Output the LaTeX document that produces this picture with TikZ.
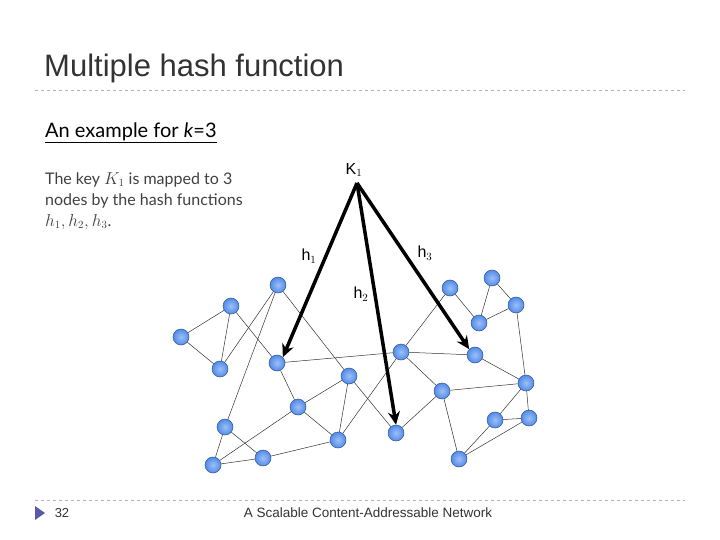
\documentclass[tikz,border=0pt]{standalone}
\usepackage{fontspec}
\setmainfont{Liberation Sans}
\newfontfamily\gill{Lato}
\usetikzlibrary{arrows.meta}
\definecolor{nodeblue}{RGB}{80,140,235}
\begin{document}
\begin{tikzpicture}[x=1pt,y=-1pt,
 nd/.style={circle,draw=nodeblue!60!black,line width=0.5pt,inner sep=0pt,minimum size=16pt,inner color=nodeblue!55!white,outer color=nodeblue},
 ed/.style={draw=black!80,line width=0.5pt},
 ar/.style={line width=3.5pt,-{Stealth[length=13pt,width=12pt]}}]
\useasboundingbox (0,0) rectangle (720,540);
\node[anchor=west,font=\fontsize{31}{36}\selectfont,text=black!80,inner sep=0pt] (title) at (44,68) {Multiple hash function};
\draw[gray!60,dashed] (35,90) -- (685,90);
\draw[gray!60,dashed] (35,500) -- (685,500);
\node[anchor=west,font=\gill\fontsize{20}{24}\selectfont,inner sep=0pt] (sub) at (45,133) {\underline{An example for \textit{k}=3}};
\node[anchor=north west,align=left,font=\gill\fontsize{16}{21}\selectfont,text=black!75,inner sep=0pt] (txt) at (45,172) {The key $K_1$ is mapped to 3\\nodes by the hash functions\\$h_1,h_2,h_3$.};
\fill[gray!70!blue] (35,506) -- (45,513) -- (35,520) -- cycle;
\node[font=\fontsize{13}{15}\selectfont,text=black!80] (pg) at (62,513) {32};
\node[font=\fontsize{13.5}{15}\selectfont,text=black!80] (ft) at (368,513) {A Scalable Content-Addressable Network};
\foreach \n/\x/\y in {a/278/285,b/231/306,c/181/337,d/220/369,e/277/363,f/349/376,g/298/407,h/225/427,i/213/465,j/263/458,k/338/440,l/396/433,m/401/352,n/442/391,o/450/288,p/492/278,q/516/305,r/479/323,s/475/355,t/526/383,u/495/420,v/529/418,w/459/459}
  \node[nd] (\n) at (\x,\y) {};
\foreach \u/\v in {c/b,c/d,b/d,b/e,a/d,a/h,a/f,e/m,e/g,g/f,g/k,h/i,h/j,i/j,i/g,j/k,f/k,f/l,k/m,m/o,m/s,m/n,n/l,n/t,n/w,s/t,t/q,o/r,r/q,p/r,p/q,t/u,t/v,u/v,u/w,w/v}
  \draw[ed] (\u) -- (\v);
\node[font=\fontsize{16}{18}\selectfont] (K) at (354,170) {K$_1$};
\coordinate (src) at (357,183);
\draw[ar] (src) -- (e.north east);
\draw[ar] (src) -- (l.north);
\draw[ar] (src) -- (s.north west);
\node[font=\fontsize{16}{18}\selectfont] (h1) at (309,256) {h$_1$};
\node[font=\fontsize{16}{18}\selectfont] (h3) at (425,253) {h$_3$};
\node[font=\fontsize{16}{18}\selectfont] (h2) at (361,294) {h$_2$};
\end{tikzpicture}
\end{document}
